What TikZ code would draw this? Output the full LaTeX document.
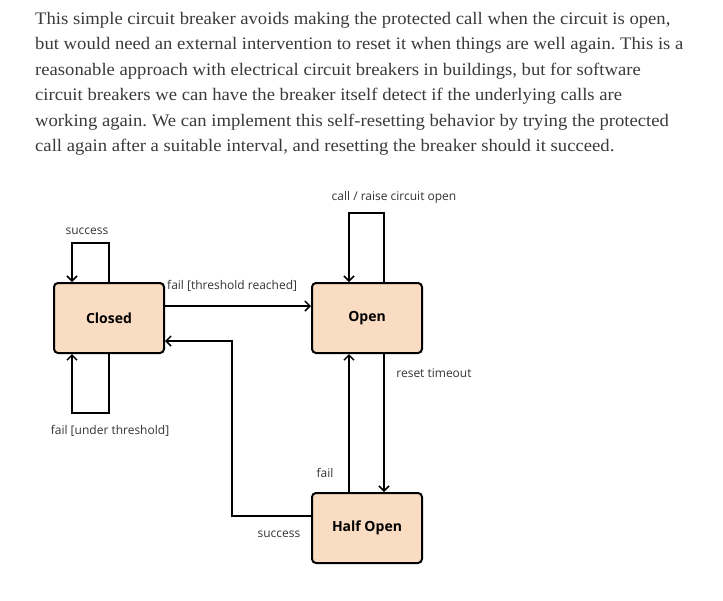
\documentclass[tikz,border=0pt]{standalone}
\usepackage{fontspec}
\setmainfont[FakeStretch=1.06]{Liberation Serif}
\newfontfamily\diagfont{Open Sans}
\usetikzlibrary{arrows.meta}
\frenchspacing
\definecolor{boxfill}{HTML}{F9DCC2}
\definecolor{paratext}{HTML}{3A3A3A}
\definecolor{labtext}{HTML}{333333}
\tikzset{
  state/.style={draw=black, line width=2pt, fill=boxfill, rounded corners=4pt,
    minimum width=110pt, minimum height=70pt, inner sep=0pt,
    font=\diagfont\bfseries\fontsize{14}{16}\selectfont},
  trans/.style={line width=2pt, -{Straight Barb[length=5pt,width=10pt,line width=1.5pt]}},
  lab/.style={font=\diagfont\fontsize{12}{14}\selectfont, text=labtext, inner sep=0pt},
  para/.style={anchor=base west, inner sep=0pt, text=paratext,
    font=\fontsize{17.6}{20}\selectfont}
}
\begin{document}
\begin{tikzpicture}[x=1pt,y=-1pt]
\useasboundingbox (0,0) rectangle (723,600);
% paragraph
\node[para] (l1) at (35,24) {This simple circuit breaker avoids making the protected call when the circuit is open,};
\node[para] (l2) at (35,49.5) {but would need an external intervention to reset it when things are well again. This is a};
\node[para] (l3) at (35,75) {reasonable approach with electrical circuit breakers in buildings, but for software};
\node[para] (l4) at (35,100.5) {circuit breakers we can have the breaker itself detect if the underlying calls are};
\node[para] (l5) at (35,126) {working again. We can implement this self-resetting behavior by trying the protected};
\node[para] (l6) at (35,151.5) {call again after a suitable interval, and resetting the breaker should it succeed.};
% states
\node[state] (closed) at (109,318) {Closed};
\node[state] (open) at (367,318) {Open};
\node[state] (half) at (367,528) {Half Open};
% loop coordinates
\coordinate (ctl) at (72,243);
\coordinate (ctr) at (109,243);
\coordinate (cbl) at (72,413);
\coordinate (cbr) at (109,413);
\coordinate (otl) at (349,213);
\coordinate (otr) at (384,213);
\coordinate (sc1) at (232,516);
\coordinate (sc2) at (232,341);
% transitions
\draw[trans] (closed.north -| ctr) -- (ctr) -- (ctl) -- (closed.north -| ctl);
\draw[trans] (closed.south -| cbr) -- (cbr) -- (cbl) -- (closed.south -| cbl);
\draw[trans] (open.north -| otr) -- (otr) -- (otl) -- (open.north -| otl);
\draw[trans] (closed.east |- 0,306) -- (open.west |- 0,306);
\draw[trans] (half.west |- sc1) -- (sc1) -- (sc2) -- (closed.east |- sc2);
\draw[trans] (half.north -| otl) -- (open.south -| otl);
\draw[trans] (open.south -| otr) -- (half.north -| otr);
% labels
\node[lab] (lsucc1) at (87,231) {success};
\node[lab] (lfailut) at (110,431) {fail [under threshold]};
\node[lab] (lcall) at (394,197) {call / raise circuit open};
\node[lab, anchor=west] (lthr) at (167,286) {fail [threshold reached]};
\node[lab] (lsucc2) at (279,534) {success};
\node[lab] (lfail) at (325,473) {fail};
\node[lab] (lreset) at (434,373) {reset timeout};
\end{tikzpicture}
\end{document}
